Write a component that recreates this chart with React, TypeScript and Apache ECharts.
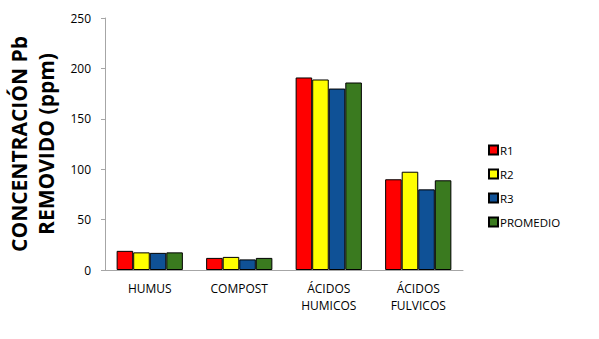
import React, { useEffect, useRef } from "react";
import * as echarts from "echarts";

const categories = ["HUMUS", "COMPOST", "ÁCIDOS\nHUMICOS", "ÁCIDOS\nFULVICOS"];
const seriesNames = ["R1", "R2", "R3", "PROMEDIO"];
const r1 = [19, 12, 191, 90];
const r2 = [17.5, 13, 189, 97.5];
const r3 = [17, 10.5, 180, 80];
const promedio = [17.5, 12, 186, 89];
const colors = ["#FF0000", "#FFFF00", "#0F5196", "#3A7A1F"];
const yTicks = { min: 0, max: 250, interval: 50 };

export default function App() {
  const ref = useRef<HTMLDivElement>(null);
  useEffect(() => {
    if (!ref.current) return;
    const chart = echarts.init(ref.current, null, { renderer: "svg" });
    const data = [r1, r2, r3, promedio];
    const font = "'Open Sans', 'Noto Sans', sans-serif";
    chart.setOption({
      animation: false,
      backgroundColor: "#ffffff",
      grid: { left: 105, top: 18, right: 136, bottom: 69, containLabel: false, outerBoundsMode: "none" },
      legend: {
        orient: "vertical",
        left: 483,
        top: 139,
        itemWidth: 9,
        itemHeight: 9,
        itemGap: 12,
        icon: "rect",
        textStyle: { fontFamily: font, fontSize: 11.5, lineHeight: 12, color: "#000", padding: [0, 0, 0, -3] },
        data: seriesNames,
      },
      xAxis: {
        type: "category",
        data: categories,
        axisLine: { lineStyle: { color: "#A6A6A6", width: 1 } },
        axisTick: { show: false },
        axisLabel: { fontFamily: font, fontSize: 12, color: "#000", margin: 10, lineHeight: 17 },
      },
      yAxis: {
        type: "value",
        min: yTicks.min,
        max: yTicks.max,
        interval: yTicks.interval,
        name: "CONCENTRACIÓN Pb\nREMOVIDO (ppm)",
        nameLocation: "middle",
        nameGap: 40,
        nameTextStyle: {
          fontFamily: font,
          fontSize: 21,
          fontWeight: "bold",
          color: "#000",
          lineHeight: 27,
        },
        splitLine: { show: false },
        axisLine: { show: true, lineStyle: { color: "#A6A6A6", width: 1 } },
        axisTick: { show: true, length: 4, lineStyle: { color: "#A6A6A6" } },
        axisLabel: { fontFamily: font, fontSize: 12, color: "#000", margin: 14 },
      },
      series: seriesNames.map((name, i) => ({
        name,
        type: "bar",
        data: data[i],
        barGap: "0%",
        barCategoryGap: "26%",
        itemStyle: { color: colors[i], borderColor: "#000", borderWidth: 1 },
      })),
    });
    return () => chart.dispose();
  }, []);
  return <div ref={ref} style={{ width: 599, height: 339, position: "absolute", left: 0, top: 0 }} />;
}
